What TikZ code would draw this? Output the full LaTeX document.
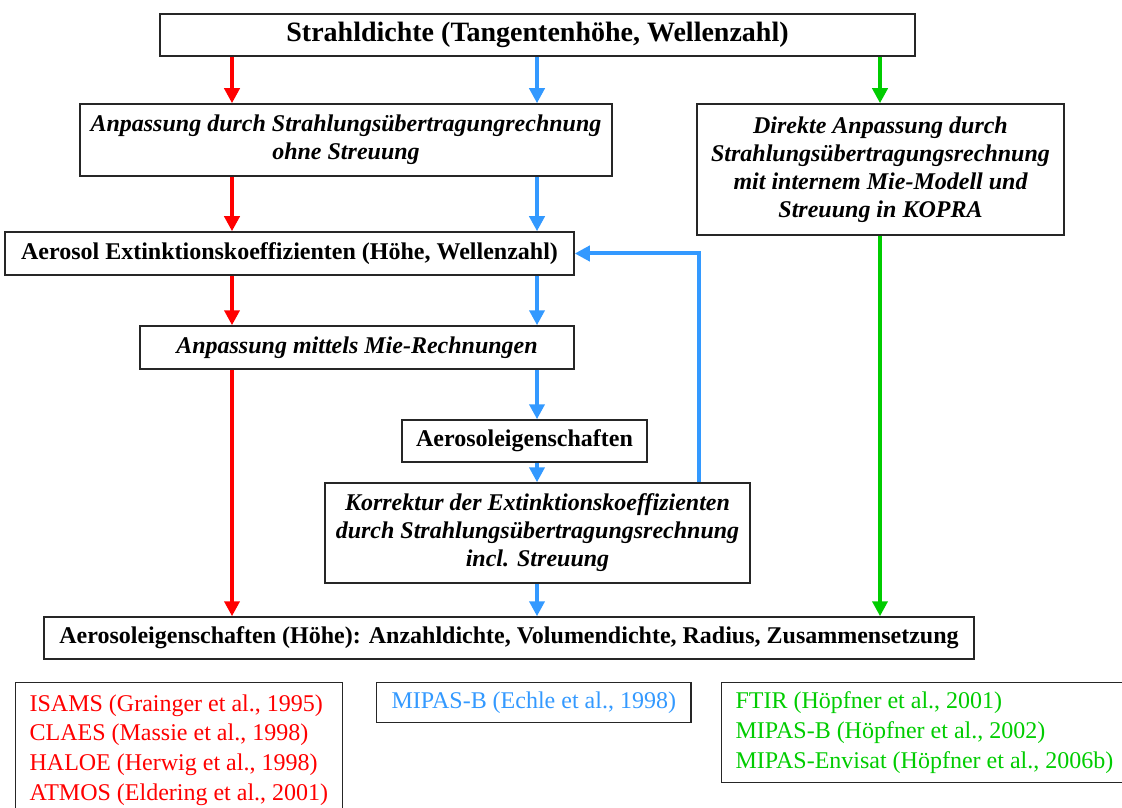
\documentclass[tikz,border=0pt]{standalone}
\usepackage{fontspec}
\setmainfont{Liberation Serif}
\usepackage{xcolor}
\usetikzlibrary{arrows.meta}
\definecolor{pfrot}{RGB}{255,0,0}
\definecolor{pfblau}{RGB}{51,153,255}
\definecolor{pfgruen}{RGB}{0,204,0}

\begin{document}
\begin{tikzpicture}[x=0.5pt,y=-0.5pt,
	kasten/.style={draw=black!85,line width=0.75pt,inner sep=0pt,align=center,
		font=\fontsize{12}{14}\selectfont\bfseries},
	kastenit/.style={kasten,font=\fontsize{12}{14}\selectfont\bfseries\itshape},
	liste/.style={draw=black!85,line width=0.6pt,inner xsep=7pt,inner ysep=6pt,align=left,
		font=\fontsize{12}{14.85}\selectfont},
	pfeil/.style={line width=2pt,-{Triangle[width=7.5pt,length=7.5pt]}}]
			\clip (0,0) rectangle (1122,807);
			% Spalten der Pfeile
			\coordinate (rot) at (232,0);
			\coordinate (blau) at (537,0);
			\coordinate (gruen) at (880,0);
			\coordinate (rueck) at (699,0);
			% Kaesten
			\node[kasten,font=\fontsize{14}{16}\selectfont\bfseries,minimum width=377.5pt,minimum height=21pt] (top) at (537.5,35) {Strahldichte (Tangentenhöhe, Wellenzahl)};
			\node[kastenit,minimum width=266pt,minimum height=36pt] (anp) at (346,140) {Anpassung durch Strahlungsübertragungrechnung\\ohne Streuung};
			\node[kastenit,minimum width=183.5pt,minimum height=65.5pt] (direkt) at (880.5,169.5) {Direkte Anpassung durch\\Strahlungsübertragungsrechnung\\mit internem Mie-Modell und\\Streuung in KOPRA};
			\node[kasten,minimum width=284.5pt,minimum height=21.5pt] (ext) at (289.5,253.5) {Aerosol Extinktionskoeffizienten (Höhe, Wellenzahl)};
			\node[kastenit,minimum width=217pt,minimum height=21.5pt] (mie) at (357,347.5) {Anpassung mittels Mie-Rechnungen};
			\node[kasten,minimum width=122.5pt,minimum height=21pt] (eig) at (524.5,441) {Aerosoleigenschaften};
			\node[kastenit,minimum width=212.5pt,minimum height=50pt] (korr) at (537.5,533) {Korrektur der Extinktionskoeffizienten\\durch Strahlungsübertragungsrechnung\\incl. Streuung};
			\node[kasten,minimum width=465pt,minimum height=21pt] (erg) at (509,638) {Aerosoleigenschaften (Höhe): Anzahldichte, Volumendichte, Radius, Zusammensetzung};
			% Literatur
			\node[liste,text=pfrot,anchor=north west] (lrot) at (15,682) {ISAMS (Grainger et al., 1995)\\CLAES (Massie et al., 1998)\\HALOE (Herwig et al., 1998)\\ATMOS (Eldering et al., 2001)\\ };
			\node[liste,text=pfblau,anchor=north west,inner xsep=7.5pt,inner ysep=0pt,minimum height=20pt] (lblau) at (376,682) {MIPAS-B (Echle et al., 1998)};
			\node[liste,text=pfgruen,anchor=north west,inner ysep=0pt,minimum height=50pt] (lgruen) at (721,682) {FTIR (Höpfner et al., 2001)\\MIPAS-B (Höpfner et al., 2002)\\MIPAS-Envisat (Höpfner et al., 2006b)};
			% Pfeile rot
			\draw[pfeil,pfrot] (top.south -| rot) -- (anp.north -| rot);
			\draw[pfeil,pfrot] (anp.south -| rot) -- (ext.north -| rot);
			\draw[pfeil,pfrot] (ext.south -| rot) -- (mie.north -| rot);
			\draw[pfeil,pfrot] (mie.south -| rot) -- (erg.north -| rot);
			% Pfeile blau
			\draw[pfeil,pfblau] (top.south -| blau) -- (anp.north -| blau);
			\draw[pfeil,pfblau] (anp.south -| blau) -- (ext.north -| blau);
			\draw[pfeil,pfblau] (ext.south -| blau) -- (mie.north -| blau);
			\draw[pfeil,pfblau] (mie.south -| blau) -- (eig.north -| blau);
			\draw[pfeil,pfblau] (eig.south -| blau) -- (korr.north -| blau);
			\draw[pfeil,pfblau] (korr.south -| blau) -- (erg.north -| blau);
			\draw[pfeil,pfblau] (korr.north -| rueck) |- (ext.east);
			% Pfeile gruen
			\draw[pfeil,pfgruen] (top.south -| gruen) -- (direkt.north -| gruen);
			\draw[pfeil,pfgruen] (direkt.south -| gruen) -- (erg.north -| gruen);
		\end{tikzpicture}
\end{document}
